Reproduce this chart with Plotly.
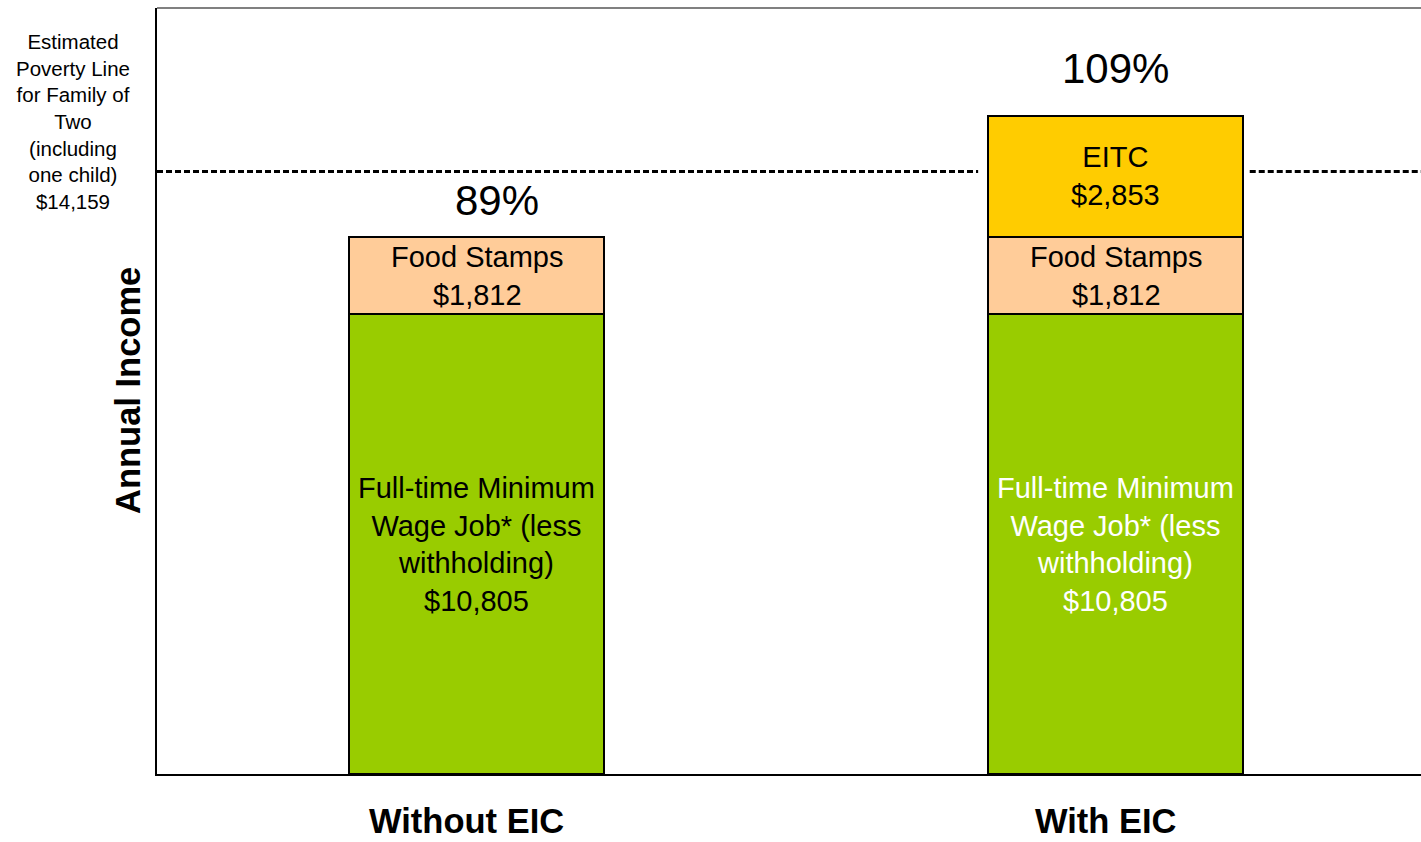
import plotly.graph_objects as go

categories = ["Without EIC", "With EIC"]
wage = [10805, 10805]
food_stamps = [1812, 1812]
eitc = [None, 2853]
poverty_line = 14159
pct_labels = ["89%", "109%"]
wage_labels = ["Full-time Minimum<br>Wage Job* (less<br>withholding)<br>$10,805"] * 2
food_labels = ["Food Stamps<br>$1,812"] * 2
eitc_labels = [None, "EITC<br>$2,853"]
poverty_label = "Estimated<br>Poverty Line<br>for Family of<br>Two<br>(including<br>one child)<br>$14,159"

FONT = "Liberation Sans, Arial, sans-serif"

fig = go.Figure()
line = dict(color="black", width=2)
fig.add_bar(x=categories, y=wage, marker=dict(color="#99CC00", line=line), width=0.4)
fig.add_bar(x=categories, y=food_stamps, marker=dict(color="#FFCC99", line=line), width=0.4)
fig.add_bar(x=categories, y=eitc, marker=dict(color="#FFCC00", line=line), width=0.4)

ann = []
wage_colors = ["black", "white"]
for i, c in enumerate(categories):
    ann.append(dict(x=c, y=wage[i] / 2, text=wage_labels[i], showarrow=False,
                    font=dict(family=FONT, size=29, color=wage_colors[i])))
    ann.append(dict(x=c, y=wage[i] + food_stamps[i] / 2, text=food_labels[i], showarrow=False,
                    font=dict(family=FONT, size=29, color="black")))
    top = wage[i] + food_stamps[i]
    if eitc[i]:
        ann.append(dict(x=c, y=top + eitc[i] / 2, text=eitc_labels[i], showarrow=False,
                        font=dict(family=FONT, size=29, color="black")))
        top += eitc[i]
    ann.append(dict(x=c, y=top, text=pct_labels[i], showarrow=False, yanchor="bottom",
                    xshift=20 if i == 0 else 0, yshift=11 if i == 0 else 22,
                    font=dict(family=FONT, size=42, color="black")))
    ann.append(dict(x=c, y=0, yref="paper", text="<b>" + c + "</b>", showarrow=False,
                    yanchor="bottom", yshift=-68, xshift=-10,
                    font=dict(family=FONT, size=34.5, color="black")))

ann.append(dict(x=0, xref="paper", y=poverty_line, text=poverty_label, showarrow=False,
                xanchor="center", yanchor="middle", xshift=-84, yshift=50,
                font=dict(family=FONT, size=20.5, color="black")))
ann.append(dict(x=0, xref="paper", y=0.5, yref="paper", text="<b>Annual Income</b>",
                textangle=-90, showarrow=False, xanchor="center", yanchor="middle",
                xshift=-29, font=dict(family=FONT, size=34.5, color="black")))

dash = dict(color="black", width=3, dash="6px,3px")
shapes = [
    dict(type="line", xref="x", yref="y", x0=-0.5, x1=0.785, y0=poverty_line, y1=poverty_line,
         line=dash, layer="below"),
    dict(type="line", xref="x", yref="y", x0=1.21, x1=1.5, y0=poverty_line, y1=poverty_line,
         line=dash, layer="below"),
    dict(type="line", xref="paper", yref="paper", x0=0, x1=1, y0=1, y1=1,
         line=dict(color="#808080", width=2)),
]

fig.update_layout(
    barmode="stack",
    width=1421, height=842,
    margin=dict(l=157, r=0, t=8, b=68),
    plot_bgcolor="white", paper_bgcolor="white",
    showlegend=False,
    annotations=ann, shapes=shapes,
    font=dict(family=FONT),
)
fig.update_xaxes(range=[-0.5, 1.478], showticklabels=False, ticks="", showgrid=False,
                 showline=True, linecolor="black", linewidth=2, zeroline=False)
fig.update_yaxes(range=[0, 18000], showticklabels=False, ticks="", showgrid=False,
                 showline=True, linecolor="black", linewidth=2, zeroline=False)

fig.write_html("out.html")
